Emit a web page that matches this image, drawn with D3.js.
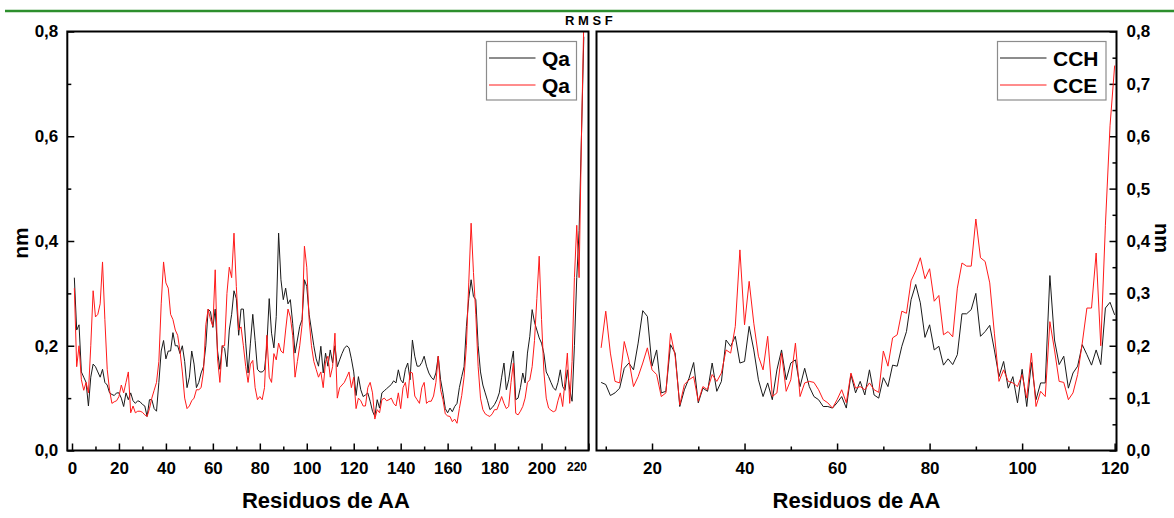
<!DOCTYPE html>
<html>
<head>
<meta charset="utf-8">
<script src="https://cdn.jsdelivr.net/npm/d3@7"></script>
<style>
  html, body { margin: 0; padding: 0; background: #fff; }
  svg { display: block; }
  text { font-family: "Liberation Sans", Arial, sans-serif; font-weight: bold; fill: #000; }
  .axis path.domain { display: none; }
  .axis line { stroke: #000; stroke-width: 1.5; }
  .axis text { font-size: 17px; }
</style>
</head>
<body>
<script>
// residue numbers of the first point of each series
var leftStart = 1;
var rightStart = 9;

// left panel, Qa (black) and Qa (red), residues 1..218
var qaBlack = [
  0.33, 0.23, 0.24, 0.15, 0.14, 0.13, 0.085, 0.14, 0.165, 0.16,
  0.15, 0.14, 0.155, 0.13, 0.125, 0.11, 0.107, 0.105, 0.11, 0.11,
  0.1, 0.084, 0.11, 0.097, 0.11, 0.095, 0.09, 0.095, 0.093, 0.088,
  0.085, 0.065, 0.097, 0.097, 0.08, 0.075, 0.13, 0.19, 0.21, 0.175,
  0.19, 0.19, 0.225, 0.2, 0.2, 0.185, 0.2, 0.17, 0.12, 0.14,
  0.19, 0.165, 0.12, 0.13, 0.148, 0.16, 0.2, 0.27, 0.265, 0.235,
  0.27, 0.19, 0.155, 0.2, 0.195, 0.16, 0.23, 0.26, 0.305, 0.29,
  0.22, 0.27, 0.27, 0.205, 0.148, 0.205, 0.26, 0.21, 0.155, 0.15,
  0.15, 0.154, 0.2, 0.29, 0.224, 0.196, 0.256, 0.415, 0.326, 0.288,
  0.31, 0.28, 0.288, 0.243, 0.186, 0.211, 0.237, 0.25, 0.326, 0.313,
  0.26, 0.23, 0.2, 0.175, 0.161, 0.199, 0.148, 0.186, 0.161, 0.192,
  0.167, 0.2, 0.16, 0.173, 0.185, 0.195, 0.2, 0.196, 0.175, 0.15,
  0.105, 0.141, 0.116, 0.103, 0.106, 0.11, 0.094, 0.075, 0.065, 0.097,
  0.081, 0.11, 0.114, 0.118, 0.122, 0.126, 0.133, 0.129, 0.154, 0.135,
  0.129, 0.155, 0.167, 0.135, 0.211, 0.18, 0.161, 0.161, 0.168, 0.18,
  0.161, 0.148, 0.14, 0.135, 0.148, 0.18, 0.135, 0.11, 0.08, 0.072,
  0.081, 0.074, 0.084, 0.09, 0.12, 0.141, 0.16, 0.237, 0.29, 0.326,
  0.294, 0.288, 0.2, 0.15, 0.125, 0.11, 0.095, 0.078, 0.082, 0.088,
  0.097, 0.11, 0.14, 0.167, 0.116, 0.135, 0.165, 0.19, 0.097, 0.1,
  0.12, 0.148, 0.129, 0.186, 0.218, 0.269, 0.245, 0.23, 0.215, 0.205,
  0.185, 0.15, 0.141, 0.13, 0.12, 0.115, 0.13, 0.154, 0.122, 0.115,
  0.154, 0.116, 0.094, 0.2, 0.33, 0.42, 0.6, 0.79
];
var qaRed = [
  0.31, 0.16, 0.2, 0.135, 0.115, 0.13, 0.11, 0.2, 0.305, 0.255,
  0.26, 0.28, 0.36, 0.25, 0.155, 0.115, 0.09, 0.093, 0.095, 0.103,
  0.125, 0.11, 0.13, 0.15, 0.072, 0.085, 0.072, 0.075, 0.075, 0.073,
  0.068, 0.065, 0.08, 0.1, 0.115, 0.13, 0.17, 0.28, 0.36, 0.32,
  0.31, 0.26, 0.25, 0.23, 0.22, 0.19, 0.15, 0.1, 0.08, 0.085,
  0.095, 0.1, 0.116, 0.116, 0.12, 0.15, 0.24, 0.27, 0.25, 0.237,
  0.345, 0.175, 0.13, 0.2, 0.2, 0.3, 0.35, 0.33, 0.415, 0.313,
  0.23, 0.236, 0.2, 0.16, 0.13, 0.165, 0.172, 0.12, 0.097, 0.103,
  0.097, 0.12, 0.22, 0.14, 0.13, 0.185, 0.173, 0.205, 0.19, 0.186,
  0.23, 0.27, 0.255, 0.22, 0.14, 0.17, 0.2, 0.24, 0.39, 0.35,
  0.25, 0.2, 0.17, 0.155, 0.14, 0.15, 0.12, 0.17, 0.18, 0.14,
  0.16, 0.224, 0.1, 0.12, 0.125, 0.13, 0.14, 0.15, 0.12, 0.14,
  0.08, 0.1, 0.095, 0.085, 0.085, 0.12, 0.13, 0.11, 0.06, 0.078,
  0.072, 0.097, 0.1, 0.095, 0.097, 0.1, 0.09, 0.085, 0.11, 0.08,
  0.12, 0.13, 0.1, 0.15, 0.148, 0.104, 0.097, 0.09, 0.12, 0.13,
  0.09, 0.094, 0.094, 0.104, 0.13, 0.18, 0.116, 0.097, 0.07, 0.066,
  0.065, 0.055, 0.06, 0.052, 0.08, 0.105, 0.14, 0.2, 0.32, 0.434,
  0.34, 0.26, 0.16, 0.1, 0.078, 0.07, 0.067, 0.065, 0.07, 0.078,
  0.078, 0.09, 0.103, 0.09, 0.08, 0.084, 0.13, 0.167, 0.071, 0.068,
  0.075, 0.084, 0.1, 0.13, 0.135, 0.16, 0.21, 0.29, 0.371, 0.25,
  0.15, 0.1, 0.081, 0.077, 0.074, 0.076, 0.095, 0.11, 0.084, 0.135,
  0.186, 0.09, 0.17, 0.33, 0.43, 0.33, 0.6, 0.82
];

// right panel, CCH (black) and CCE (red), residues 9..120
var cch = [
  0.13, 0.126, 0.105, 0.11, 0.119, 0.157, 0.167, 0.154, 0.205, 0.267,
  0.256, 0.161, 0.192, 0.11, 0.113, 0.202, 0.186, 0.084, 0.116, 0.138,
  0.168, 0.091, 0.119, 0.113, 0.167, 0.113, 0.132, 0.211, 0.199, 0.218,
  0.167, 0.17, 0.237, 0.192, 0.135, 0.103, 0.129, 0.097, 0.154, 0.192,
  0.135, 0.167, 0.173, 0.122, 0.157, 0.122, 0.103, 0.097, 0.084, 0.084,
  0.081, 0.091, 0.103, 0.081, 0.145, 0.11, 0.132, 0.106, 0.154, 0.106,
  0.1, 0.139, 0.122, 0.163, 0.161, 0.199, 0.227, 0.288, 0.317, 0.282,
  0.216, 0.24, 0.192, 0.199, 0.163, 0.175, 0.164, 0.183, 0.261, 0.261,
  0.269, 0.3, 0.218, 0.227, 0.239, 0.192, 0.141, 0.17, 0.119, 0.141,
  0.091, 0.155, 0.084, 0.168, 0.097, 0.129, 0.129, 0.334, 0.211, 0.164,
  0.18, 0.119, 0.148, 0.161, 0.202, 0.183, 0.163, 0.192, 0.164, 0.272,
  0.283, 0.259
];
var cce = [
  0.196, 0.266, 0.186, 0.132, 0.129, 0.208, 0.173, 0.122, 0.141, 0.167,
  0.196, 0.154, 0.145, 0.103, 0.11, 0.224, 0.18, 0.087, 0.126, 0.135,
  0.141, 0.094, 0.122, 0.116, 0.145, 0.132, 0.148, 0.192, 0.186, 0.237,
  0.383, 0.24, 0.323, 0.243, 0.18, 0.154, 0.218, 0.103, 0.11, 0.186,
  0.113, 0.135, 0.205, 0.103, 0.129, 0.132, 0.13, 0.116, 0.097, 0.091,
  0.081, 0.097, 0.116, 0.091, 0.148, 0.119, 0.122, 0.116, 0.129, 0.116,
  0.111, 0.19, 0.161, 0.215, 0.221, 0.266, 0.262, 0.324, 0.343, 0.368,
  0.328, 0.347, 0.285, 0.296, 0.221, 0.227, 0.217, 0.31, 0.358, 0.352,
  0.352, 0.442, 0.368, 0.361, 0.32, 0.224, 0.132, 0.154, 0.132, 0.129,
  0.122, 0.145, 0.1, 0.186, 0.084, 0.113, 0.103, 0.246, 0.192, 0.132,
  0.13, 0.097, 0.11, 0.145, 0.205, 0.272, 0.272, 0.377, 0.2, 0.43,
  0.62, 0.735
];

// tick values
var leftXTicks = [0, 20, 40, 60, 80, 100, 120, 140, 160, 180, 200, 220];
var leftXMinor = [10, 30, 50, 70, 90, 110, 130, 150, 170, 190, 210];
var leftYTicks = [0, 0.2, 0.4, 0.6, 0.8];
var leftYMinor = [0.1, 0.3, 0.5, 0.7];
var rightXTicks = [20, 40, 60, 80, 100, 120];
var rightXMinor = [10, 30, 50, 70, 90, 110];
var rightYTicks = [0, 0.1, 0.2, 0.3, 0.4, 0.5, 0.6, 0.7, 0.8];
var rightYMinor = [0.05, 0.15, 0.25, 0.35, 0.45, 0.55, 0.65, 0.75];

var legendLeft = ['Qa', 'Qa'];
var legendRight = ['CCH', 'CCE'];
var colors = ['#1a1a1a', '#ff1a1a'];

var svgWidth = 1174, svgHeight = 518;
var plotTop = 31.5, plotBottom = 450.5;

var svg = d3.select('body').append('svg')
  .attr('width', svgWidth).attr('height', svgHeight);

svg.append('rect').attr('width', svgWidth).attr('height', svgHeight).attr('fill', '#fff');

// green rule across the top
svg.append('line')
  .attr('x1', 5).attr('x2', svgWidth).attr('y1', 11).attr('y2', 11)
  .attr('stroke', '#2d8f2d').attr('stroke-width', 2.5);

svg.append('text')
  .attr('x', 565).attr('y', 24.5)
  .style('font-size', '13px')
  .text('R M S F');

var comma = function(d) { return d3.format('.1f')(d).replace('.', ','); };

var yScale = d3.scaleLinear().domain([0, 0.8]).range([plotBottom, plotTop]);
var xLeft = d3.scaleLinear().domain([-2, 220]).range([67.3, 588.5]);
var xRight = d3.scaleLinear().domain([8, 120.4]).range([596.5, 1116.5]);

function drawPanel(opt) {
  var x = opt.x;
  var x0 = x.range()[0], x1 = x.range()[1];
  var g = svg.append('g');

  // clip so the end spikes stay inside the frame
  svg.append('defs').append('clipPath').attr('id', opt.id)
    .append('rect')
    .attr('x', x0).attr('y', plotTop)
    .attr('width', x1 - x0).attr('height', plotBottom - plotTop);

  // bottom axis, ticks pointing in
  g.append('g').classed('axis', true)
    .attr('transform', 'translate(0,' + plotBottom + ')')
    .call(d3.axisBottom(x).tickValues(opt.xTicks).tickSize(-7).tickPadding(11)
      .tickFormat(function(d) { return d === 220 ? '' : d; }));
  g.append('g').classed('axis', true)
    .attr('transform', 'translate(0,' + plotBottom + ')')
    .call(d3.axisBottom(x).tickValues(opt.xMinor).tickSize(-4).tickFormat(''));

  // y axis on the outside edge
  var yAxis = opt.side === 'left' ? d3.axisLeft(yScale) : d3.axisRight(yScale);
  var yPos = opt.side === 'left' ? x0 : x1;
  g.append('g').classed('axis', true)
    .attr('transform', 'translate(' + yPos + ',0)')
    .call(yAxis.tickValues(opt.yTicks).tickSize(-7).tickPadding(opt.side === 'left' ? 9 : 10)
      .tickFormat(comma));
  var yMinorAxis = opt.side === 'left' ? d3.axisLeft(yScale) : d3.axisRight(yScale);
  g.append('g').classed('axis', true)
    .attr('transform', 'translate(' + yPos + ',0)')
    .call(yMinorAxis.tickValues(opt.yMinor).tickSize(-4).tickFormat(''));

  // the two series
  opt.series.forEach(function(values, i) {
    var line = d3.line()
      .x(function(d, k) { return x(opt.start + k); })
      .y(function(d) { return yScale(d); });
    g.append('path').datum(values)
      .attr('clip-path', 'url(#' + opt.id + ')')
      .attr('fill', 'none')
      .attr('stroke', colors[i])
      .attr('stroke-width', 1)
      .attr('stroke-linejoin', 'round')
      .attr('d', line);
  });

  // frame
  g.append('rect')
    .attr('x', x0).attr('y', plotTop)
    .attr('width', x1 - x0).attr('height', plotBottom - plotTop)
    .attr('fill', 'none').attr('stroke', '#000').attr('stroke-width', 2);

  // legend
  var lg = g.append('g');
  lg.append('rect')
    .attr('x', opt.legend.x).attr('y', 41.5)
    .attr('width', opt.legend.w).attr('height', 58.5)
    .attr('fill', '#fff').attr('stroke', '#8c8c8c').attr('stroke-width', 1.2);
  opt.legend.labels.forEach(function(label, i) {
    var ly = 58 + i * 27;
    lg.append('line')
      .attr('x1', opt.legend.x + 2.5).attr('x2', opt.legend.x + 49)
      .attr('y1', ly).attr('y2', ly)
      .attr('stroke', colors[i]).attr('stroke-width', 1);
    lg.append('text')
      .attr('x', opt.legend.x + 55.5).attr('y', ly + 7.5)
      .style('font-size', '21px')
      .text(label);
  });

  // axis title
  g.append('text')
    .attr('x', (x0 + x1) / 2 + opt.titleShift).attr('y', 508)
    .attr('text-anchor', 'middle')
    .style('font-size', '22px')
    .text('Residuos de AA');
}

drawPanel({
  id: 'clipLeft', x: xLeft, side: 'left', start: leftStart,
  series: [qaBlack, qaRed],
  xTicks: leftXTicks, xMinor: leftXMinor, yTicks: leftYTicks, yMinor: leftYMinor,
  legend: { x: 486.5, w: 90, labels: legendLeft },
  titleShift: -2
});

drawPanel({
  id: 'clipRight', x: xRight, side: 'right', start: rightStart,
  series: [cch, cce],
  xTicks: rightXTicks, xMinor: rightXMinor, yTicks: rightYTicks, yMinor: rightYMinor,
  legend: { x: 997.5, w: 108.5, labels: legendRight },
  titleShift: 0
});

// the last left tick label is set smaller, tucked in at the frame edge
svg.append('text')
  .attr('x', xLeft(220) - 11.5).attr('y', 471)
  .attr('text-anchor', 'middle')
  .style('font-size', '12px')
  .text('220');

// y titles
svg.append('text')
  .attr('transform', 'translate(28,243) rotate(-90)')
  .attr('text-anchor', 'middle')
  .style('font-size', '21px')
  .text('nm');
svg.append('text')
  .attr('transform', 'translate(1155,238) rotate(90)')
  .attr('text-anchor', 'middle')
  .style('font-size', '20px')
  .text('nm');
</script>
</body>
</html>
